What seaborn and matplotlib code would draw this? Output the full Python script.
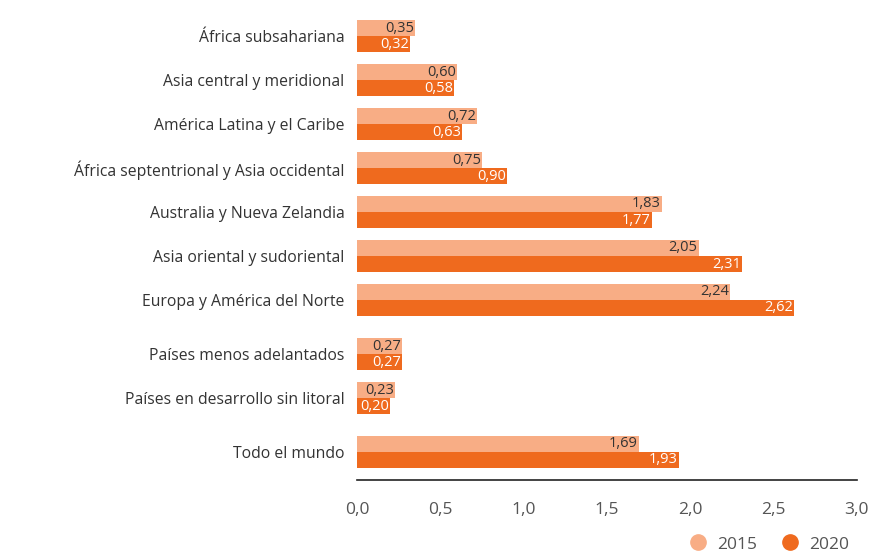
import pandas as pd
import matplotlib.pyplot as plt
import seaborn as sns
from matplotlib.lines import Line2D
from matplotlib.ticker import FuncFormatter

regions = [
    "África subsahariana",
    "Asia central y meridional",
    "América Latina y el Caribe",
    "África septentrional y Asia occidental",
    "Australia y Nueva Zelandia",
    "Asia oriental y sudoriental",
    "Europa y América del Norte",
    "Países menos adelantados",
    "Países en desarrollo sin litoral",
    "Todo el mundo",
]
positions = [0, 1, 2, 3, 4, 5, 6, 7.23, 8.23, 9.45]
values_2015 = [0.35, 0.60, 0.72, 0.75, 1.83, 2.05, 2.24, 0.27, 0.23, 1.69]
values_2020 = [0.32, 0.58, 0.63, 0.90, 1.77, 2.31, 2.62, 0.27, 0.20, 1.93]
years = ["2015", "2020"]
colors = {"2015": "#F8AD85", "2020": "#EF6A1E"}
label_colors = {"2015": "#333333", "2020": "#FFFFFF"}


def main():
    df = pd.DataFrame({
        "pos": positions * 2,
        "value": values_2015 + values_2020,
        "year": ["2015"] * len(regions) + ["2020"] * len(regions),
    })

    sns.set_style("white")
    plt.rcParams["font.family"] = ["Open Sans", "DejaVu Sans"]

    fig = plt.figure(figsize=(8.77, 5.56), dpi=100)
    ax = fig.add_axes([0.407, 0.137, 0.570, 0.836])

    sns.barplot(data=df, x="value", y="pos", hue="year", orient="h",
                native_scale=True, palette=colors, width=0.73,
                dodge=True, legend=False, ax=ax, saturation=1,
                linewidth=0, edgecolor="none")

    # value labels inside the bar ends
    for year, container in zip(years, ax.containers):
        for bar in container:
            w = bar.get_width()
            yc = bar.get_y() + bar.get_height() / 2
            ax.text(w - 0.005, yc, f"{w:.2f}".replace(".", ","),
                    ha="right", va="center", fontsize=10.5,
                    color=label_colors[year])

    ax.set_xlim(0, 3.0)
    ax.set_ylim(10.09, -0.48)
    ax.set_xticks([0, 0.5, 1.0, 1.5, 2.0, 2.5, 3.0])
    ax.xaxis.set_major_formatter(FuncFormatter(lambda v, p: f"{v:.1f}".replace(".", ",")))
    ax.set_yticks(positions)
    ax.set_yticklabels(regions)
    ax.set_xlabel("")
    ax.set_ylabel("")

    for side in ["top", "right", "left"]:
        ax.spines[side].set_visible(False)
    ax.spines["bottom"].set_color("#222222")
    ax.spines["bottom"].set_linewidth(1.2)
    ax.tick_params(axis="x", direction="in", length=5, width=1.2,
                   color="#222222", labelsize=12.5, labelcolor="#555555", pad=16)
    ax.tick_params(axis="y", length=0, labelsize=11.3, labelcolor="#333333", pad=9)

    handles = [Line2D([0], [0], marker="o", linestyle="", markersize=11,
                      markerfacecolor=colors[y], markeredgecolor=colors[y])
               for y in years]
    fig.legend(handles, years, loc="lower right", ncol=2, frameon=False,
               bbox_to_anchor=(0.972, 0.0), borderaxespad=0.1, borderpad=0.1,
               fontsize=12.5, handletextpad=0.1,
               columnspacing=0.9, labelcolor="#555555")

    fig.savefig("out.png", dpi=100)
    plt.close(fig)


if __name__ == "__main__":
    main()
